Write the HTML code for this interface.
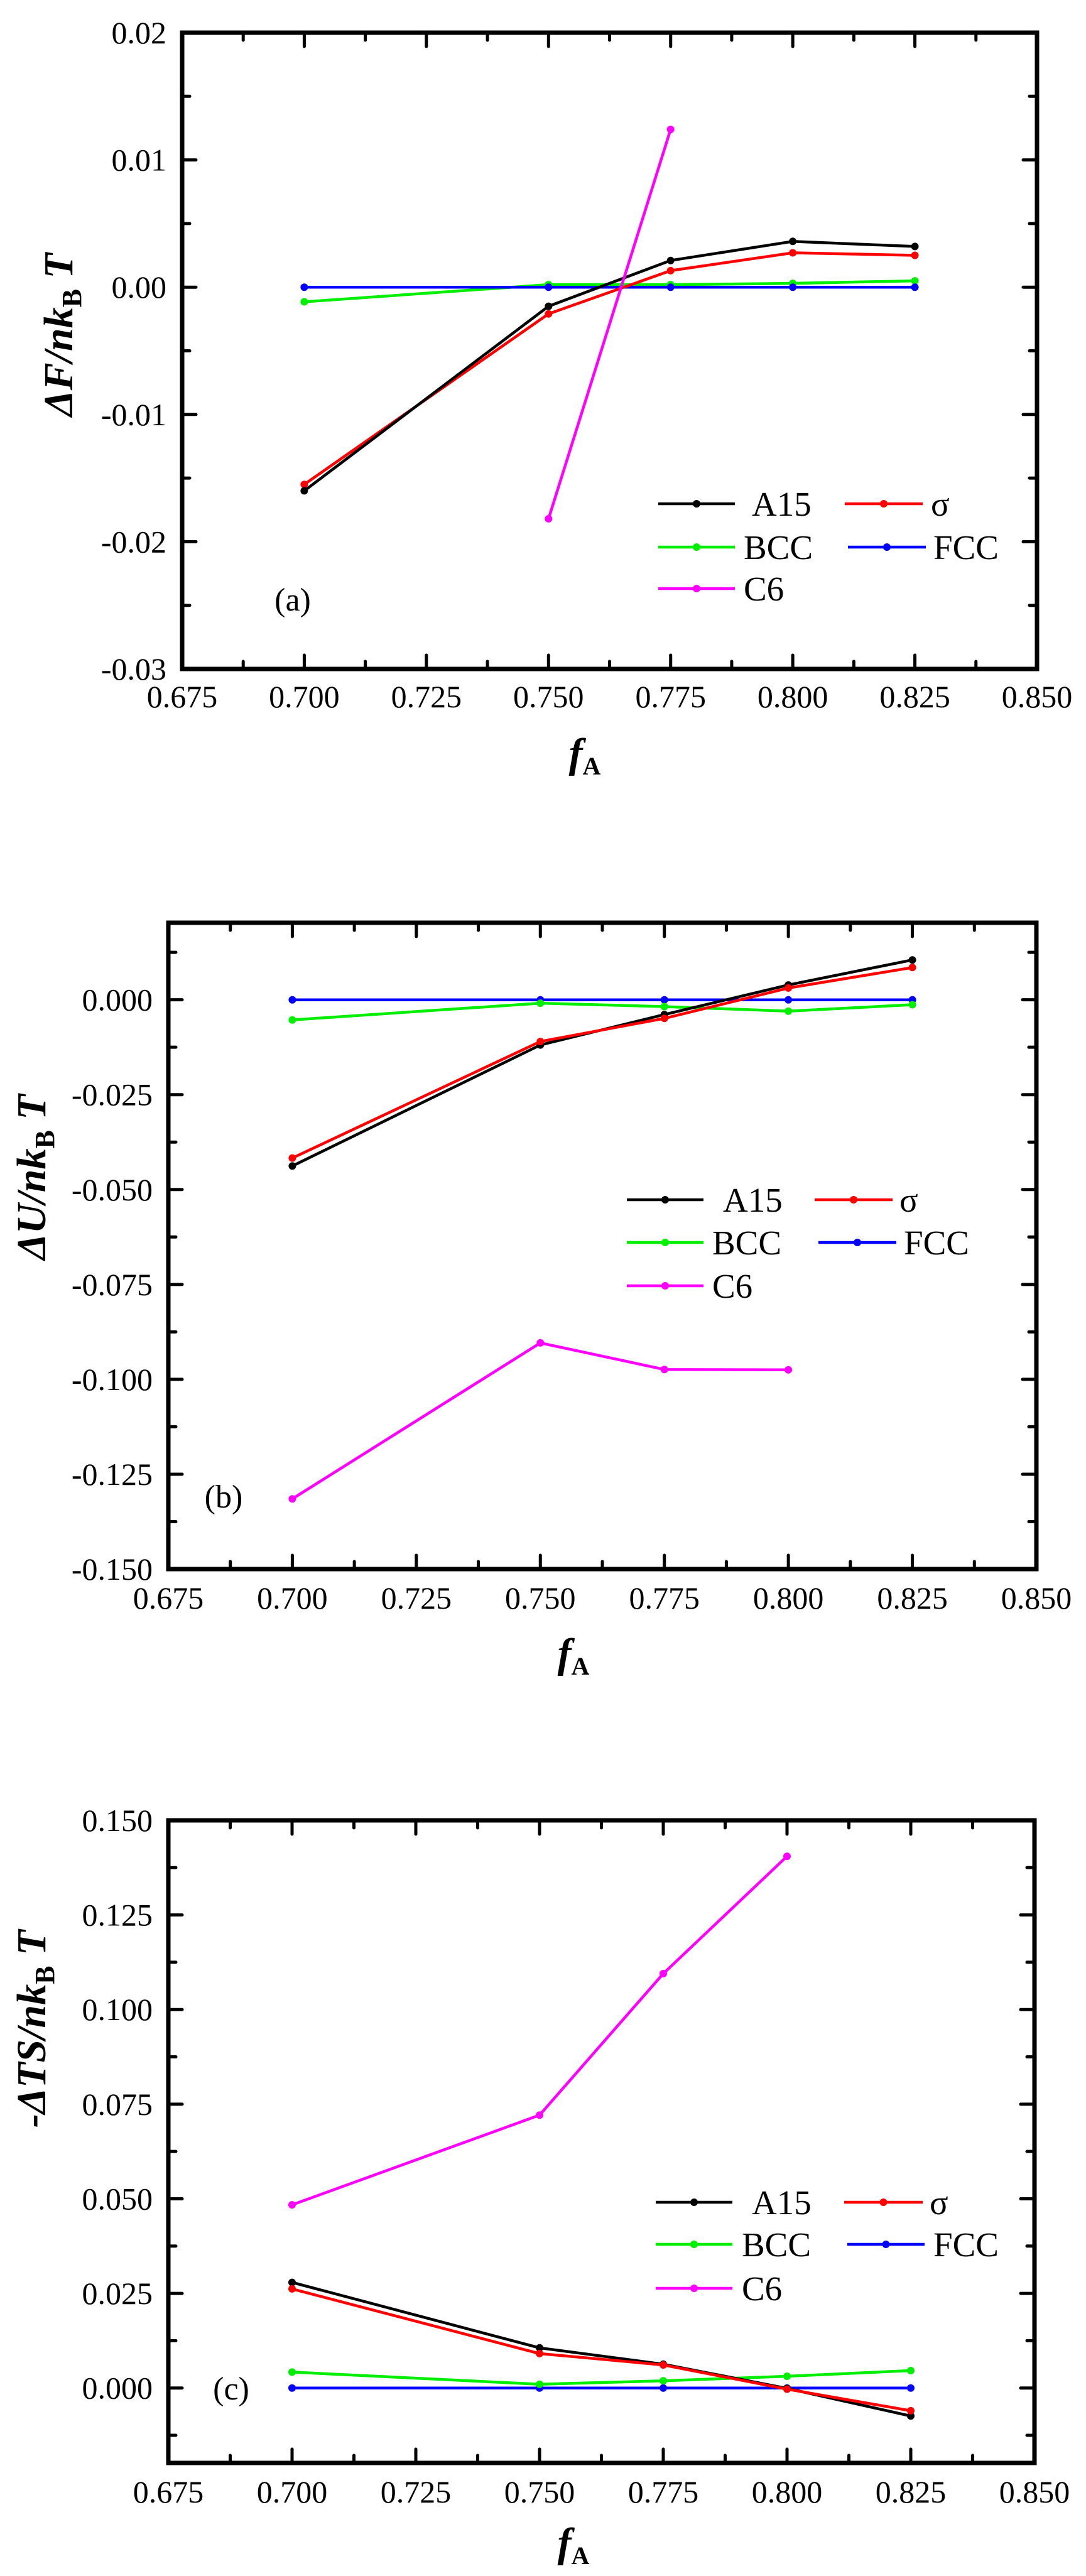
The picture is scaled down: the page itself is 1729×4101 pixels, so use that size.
<!DOCTYPE html>
<html><head><meta charset="utf-8"><style>
html,body{margin:0;padding:0;background:#fff;}
svg{display:block;font-family:"Liberation Serif","Times New Roman",serif;}
svg text{font-family:"Liberation Serif","Times New Roman",serif;}
</style></head><body>
<svg id="s" width="1729" height="4101" viewBox="0 0 1729 4101" xmlns="http://www.w3.org/2000/svg" font-family="Liberation Serif, serif"></svg>
<script>
var S=document.getElementById('s'),out='';
var FF=' font-family="Liberation Serif, serif"';
var cols={A15:'#000000',sig:'#ff0000',BCC:'#00ee00',FCC:'#0000ff',C6:'#ff00ff'};
function plot(P){
 var L=P.L,R=P.R,T=P.T,B=P.B;
 function X(v){return L+(v-0.675)/0.175*(R-L);}
 function Y(v){return B-(v-P.y0)/(P.y1-P.y0)*(B-T);}
 for(var i=0;i<=14;i++){var v=0.675+i*0.0125,x=X(v),len=(i%2==0)?22:12;
  out+='<line x1="'+x+'" y1="'+B+'" x2="'+x+'" y2="'+(B-len)+'" stroke="#000" stroke-width="5" stroke-linecap="round"/>';
  out+='<line x1="'+x+'" y1="'+T+'" x2="'+x+'" y2="'+(T+len)+'" stroke="#000" stroke-width="5" stroke-linecap="round"/>';
  if(i%2==0) out+='<text'+FF+' x="'+x+'" y="'+P.xtb+'" font-size="50" text-anchor="middle">'+v.toFixed(3)+'</text>';}
 var k0=Math.ceil(P.y0/P.minor-1e-6),k1=Math.floor(P.y1/P.minor+1e-6);
 for(var k=k0;k<=k1;k++){var v=k*P.minor; var y=Y(v);
  var maj=Math.abs(Math.round(v/P.major)*P.major-v)<1e-9,len=maj?22:12;
  out+='<line x1="'+L+'" y1="'+y+'" x2="'+(L+len)+'" y2="'+y+'" stroke="#000" stroke-width="5" stroke-linecap="round"/>';
  out+='<line x1="'+R+'" y1="'+y+'" x2="'+(R-len)+'" y2="'+y+'" stroke="#000" stroke-width="5" stroke-linecap="round"/>';
  if(maj){var t=(Math.abs(v)<1e-9?0:v).toFixed(P.dec);
   out+='<text'+FF+' x="'+(L-25)+'" y="'+(y+17)+'" font-size="50" text-anchor="end">'+t+'</text>';}}
 out+='<rect x="'+L+'" y="'+T+'" width="'+(R-L)+'" height="'+(B-T)+'" fill="none" stroke="#000" stroke-width="7"/>';
 var xs=[0.700,0.750,0.775,0.800,0.825];
 P.series.forEach(function(s){var pts=s[1].map(function(v,i){return [X(s[2]?s[2][i]:xs[i]),Y(v)];});
  out+='<polyline points="'+pts.map(function(p){return p[0].toFixed(1)+','+p[1].toFixed(1);}).join(' ')+'" fill="none" stroke="'+cols[s[0]]+'" stroke-width="4.5" stroke-linejoin="round"/>';
  pts.forEach(function(p){out+='<circle cx="'+p[0].toFixed(1)+'" cy="'+p[1].toFixed(1)+'" r="6" fill="'+cols[s[0]]+'"/>';});});
 P.leg.forEach(function(g){var c=cols[g[0]];
  out+='<line x1="'+g[1]+'" y1="'+g[3]+'" x2="'+g[2]+'" y2="'+g[3]+'" stroke="'+c+'" stroke-width="4.5"/>';
  out+='<circle cx="'+((g[1]+g[2])/2)+'" cy="'+g[3]+'" r="6" fill="'+c+'"/>';
  out+='<text'+FF+' x="'+g[4]+'" y="'+(g[3]+19)+'" font-size="55">'+g[5]+'</text>';});
 out+='<text'+FF+' x="'+P.lab[0]+'" y="'+(P.lab[1]+18)+'" font-size="52" text-anchor="middle">'+P.lab[2]+'</text>';
 out+='<text'+FF+' transform="translate('+P.yl[0]+','+P.yl[1]+') rotate(-90)" font-size="66" font-weight="bold" font-style="italic" text-anchor="middle">'+P.yl[2]+'<tspan font-size="44" dy="14" font-style="normal">B</tspan><tspan dy="-14"> T</tspan></text>';
 out+='<text'+FF+' x="'+P.xl[0]+'" y="'+P.xl[1]+'" font-size="66" font-weight="bold" font-style="italic" text-anchor="middle">f<tspan font-size="40" dy="12" font-style="normal">A</tspan></text>';
}
plot({L:290,R:1651,T:52,B:1065,y0:-0.03,y1:0.02,major:0.01,minor:0.005,dec:2,xtb:1126,
 series:[['BCC',[-0.00115,0.0002,0.0002,0.0003,0.0005]],['FCC',[0,0,0,0,0]],
 ['sig',[-0.0155,-0.0021,0.0013,0.0027,0.0025]],['A15',[-0.016,-0.0015,0.0021,0.0036,0.0032]],
 ['C6',[-0.0182,0.0124],[0.750,0.775]]],
 leg:[['A15',1048,1170,802,1197,'A15'],['sig',1345,1469,802,1482,'σ'],['BCC',1048,1170,871,1184,'BCC'],['FCC',1350,1474,871,1486,'FCC'],['C6',1048,1170,937,1184,'C6']],
 lab:[466,954,'(a)'],yl:[115,533,'ΔF/nk'],xl:[931,1221]});
plot({L:268,R:1650,T:1469,B:2498,y0:-0.15,y1:0.0203,major:0.025,minor:0.0125,dec:3,xtb:2561,
 series:[['FCC',[0,0,0,0,0]],['BCC',[-0.0053,-0.0009,-0.0018,-0.003,-0.0013]],
 ['A15',[-0.0438,-0.0119,-0.0039,0.0039,0.0105]],['sig',[-0.0417,-0.011,-0.0049,0.0031,0.0085]],
 ['C6',[-0.1315,-0.0904,-0.0974,-0.0975],[0.7,0.75,0.775,0.8]]],
 leg:[['A15',998,1120,1910,1151,'A15'],['sig',1297,1421,1910,1432,'σ'],['BCC',998,1120,1978,1134,'BCC'],['FCC',1303,1427,1978,1439,'FCC'],['C6',998,1120,2047,1134,'C6']],
 lab:[356,2382,'(b)'],yl:[72,1874,'ΔU/nk'],xl:[913,2654]});
plot({L:268,R:1647,T:2898,B:3921,y0:-0.0198,y1:0.15,major:0.025,minor:0.0125,dec:3,xtb:3984,
 series:[['C6',[0.0484,0.0721,0.1095,0.1405],[0.7,0.75,0.775,0.8]],['FCC',[0,0,0,0,0]],
 ['BCC',[0.0042,0.001,0.0019,0.0031,0.0046]],['A15',[0.0279,0.0106,0.0063,-0.0001,-0.0074]],
 ['sig',[0.0262,0.0091,0.0061,-0.0003,-0.006]]],
 leg:[['A15',1044,1166,3506,1197,'A15'],['sig',1344,1469,3506,1480,'σ'],['BCC',1044,1166,3573,1181,'BCC'],['FCC',1349,1472,3573,1486,'FCC'],['C6',1044,1166,3643,1181,'C6']],
 lab:[368,3802,'(c)'],yl:[72,3230,'-ΔTS/nk'],xl:[913,4070]});
S.innerHTML=out;
</script>
</body></html>
